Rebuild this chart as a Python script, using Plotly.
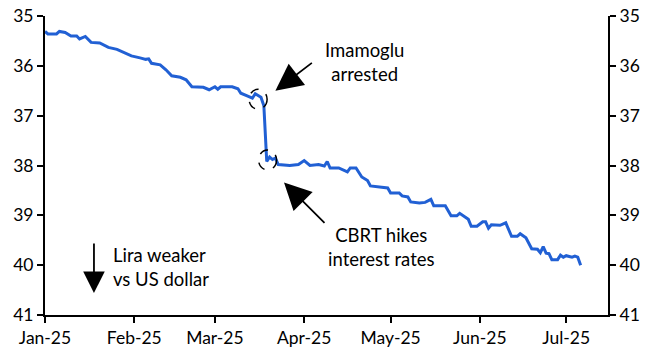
import plotly.graph_objects as go

dates = ["2025-01-01","2025-01-02","2025-01-05","2025-01-06","2025-01-08","2025-01-10","2025-01-12",
 "2025-01-13","2025-01-15","2025-01-16","2025-01-17","2025-01-20","2025-01-22","2025-01-23","2025-01-26",
 "2025-01-29","2025-01-31","2025-02-03","2025-02-05","2025-02-06","2025-02-07","2025-02-10","2025-02-12",
 "2025-02-14","2025-02-17","2025-02-19","2025-02-21","2025-02-25","2025-02-27","2025-03-01","2025-03-02",
 "2025-03-03","2025-03-07","2025-03-09","2025-03-10","2025-03-12","2025-03-14","2025-03-15","2025-03-17",
 "2025-03-18","2025-03-19","2025-03-20","2025-03-21","2025-03-22","2025-03-23","2025-03-27","2025-03-30",
 "2025-04-01","2025-04-03","2025-04-06","2025-04-08","2025-04-09","2025-04-10","2025-04-13","2025-04-16",
 "2025-04-17","2025-04-19","2025-04-21","2025-04-23","2025-04-24","2025-04-27","2025-04-30","2025-05-01",
 "2025-05-04","2025-05-05","2025-05-07","2025-05-08","2025-05-11","2025-05-13","2025-05-15","2025-05-16",
 "2025-05-20","2025-05-22","2025-05-24","2025-05-25","2025-05-28","2025-05-29","2025-05-31","2025-06-02",
 "2025-06-03","2025-06-04","2025-06-05","2025-06-08","2025-06-10","2025-06-12","2025-06-14","2025-06-15",
 "2025-06-17","2025-06-19","2025-06-21","2025-06-22","2025-06-23","2025-06-24","2025-06-25","2025-06-26",
 "2025-06-28","2025-06-29","2025-06-30","2025-07-01","2025-07-03","2025-07-04","2025-07-05","2025-07-06"]
usdtry = [35.31,35.36,35.36,35.31,35.33,35.40,35.40,
 35.46,35.41,35.48,35.53,35.54,35.60,35.63,35.67,
 35.74,35.80,35.84,35.87,35.86,35.95,35.98,36.08,
 36.20,36.23,36.28,36.42,36.43,36.48,36.42,36.47,
 36.42,36.42,36.46,36.55,36.60,36.65,36.56,36.63,
 36.80,37.92,37.83,37.88,37.85,37.98,38.00,37.98,
 37.90,38.00,37.98,38.01,37.92,38.05,38.05,38.13,
 38.05,38.05,38.23,38.30,38.41,38.43,38.45,38.55,
 38.55,38.61,38.63,38.73,38.75,38.74,38.68,38.81,
 38.81,39.01,39.01,38.96,39.08,39.22,39.22,39.13,
 39.13,39.26,39.19,39.20,39.15,39.42,39.42,39.37,
 39.45,39.67,39.68,39.75,39.63,39.76,39.77,39.89,
 39.89,39.80,39.84,39.81,39.84,39.82,39.84,40.00]

y_ticks = [35, 36, 37, 38, 39, 40, 41]
x_range = ["2025-01-01", "2025-07-15 12:00"]
y_range = [41, 35]

FONT = "Lato"
BLUE = "#2160D4"

fig = go.Figure()
fig.add_trace(go.Scatter(x=dates, y=usdtry, mode="lines",
                         line=dict(color=BLUE, width=3), hoverinfo="skip", showlegend=False))
fig.add_trace(go.Scatter(x=dates, y=usdtry, mode="lines", yaxis="y2", opacity=0,
                         line=dict(color=BLUE, width=0.1), hoverinfo="skip", showlegend=False))

axis_common = dict(range=y_range, tickvals=y_ticks, showgrid=False, zeroline=False,
                   showline=True, linecolor="black", linewidth=2, ticks="outside",
                   ticklen=6, tickwidth=1.5, tickcolor="black", automargin=False,
                   tickfont=dict(family=FONT, size=17.5, color="black"))

fig.update_layout(
    width=650, height=354,
    margin=dict(l=45, r=42, t=16, b=39),
    paper_bgcolor="white", plot_bgcolor="white",
    font=dict(family=FONT, size=17.5, color="black"),
    xaxis=dict(range=x_range, type="date", dtick="M1", tick0="2025-01-01", tickformat="%b-%y",
               showgrid=False, zeroline=False, showline=True, linecolor="black", linewidth=2,
               ticks="outside", ticklen=6, tickwidth=1.5, tickcolor="black", automargin=False,
               tickfont=dict(family=FONT, size=17.5, color="black")),
    yaxis=dict(**axis_common, side="left"),
    yaxis2=dict(**axis_common, side="right", overlaying="y"),
)

ANN_FONT = dict(family=FONT, size=18.5, color="black")

# Annotations
fig.add_annotation(x="2025-03-22", y=36.5, ax=38, ay=-29, axref="pixel", ayref="pixel",
                   text="", showarrow=True, arrowhead=2, arrowsize=3, arrowwidth=1.8, arrowcolor="black")
fig.add_annotation(x="2025-04-22", y=35.92, text="Imamoglu<br>arrested", showarrow=False, font=ANN_FONT)

fig.add_annotation(x="2025-03-25", y=38.34, ax=42, ay=42, axref="pixel", ayref="pixel",
                   text="", showarrow=True, arrowhead=2, arrowsize=3, arrowwidth=1.8, arrowcolor="black")
fig.add_annotation(x="2025-04-28", y=39.64, text="CBRT hikes<br>interest rates", showarrow=False, font=ANN_FONT)

fig.add_annotation(x="2025-01-18", y=40.56, ax=0, ay=-51, axref="pixel", ayref="pixel",
                   text="", showarrow=True, arrowhead=2, arrowsize=2.4, arrowwidth=1.8, arrowcolor="black")
fig.add_annotation(x="2025-01-24", y=40.04, text="Lira weaker<br>vs US dollar", showarrow=False,
                   xanchor="left", align="left", font=ANN_FONT)

for cx, cy in [("2025-03-16", 36.67), ("2025-03-19 07:00", 37.89)]:
    fig.add_shape(type="circle", xref="x", yref="y", xsizemode="pixel", ysizemode="pixel",
                  xanchor=cx, yanchor=cy, x0=-9, x1=9, y0=-10, y1=10,
                  line=dict(color="black", width=1.5, dash="dash"))

fig.write_html("out.html")
